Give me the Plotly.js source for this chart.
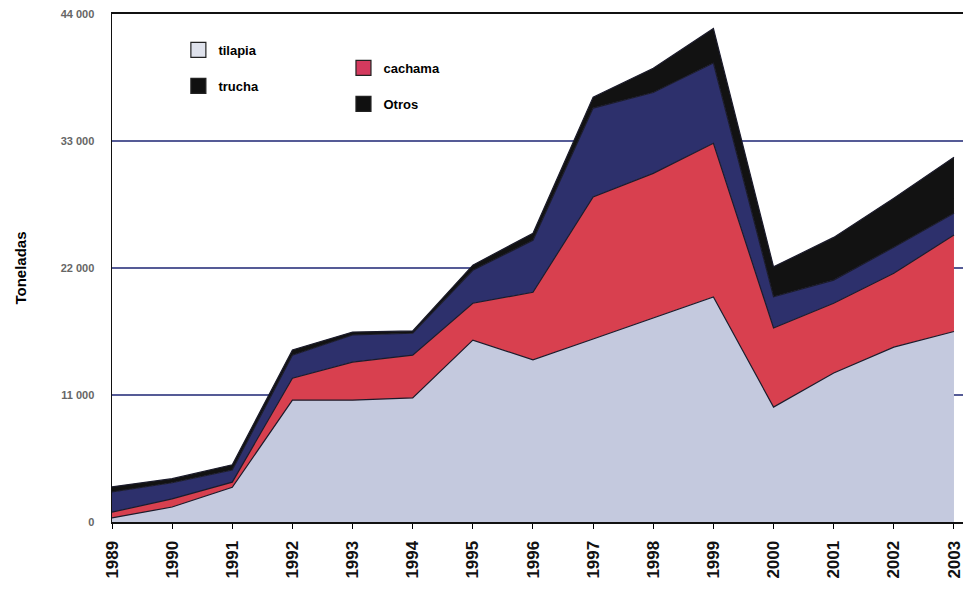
<!DOCTYPE html>
<html>
<head>
<meta charset="utf-8">
<script src="https://cdn.plot.ly/plotly-3.0.1.min.js"></script>
<style>html,body{margin:0;padding:0;background:#fff;overflow:hidden}#chart{width:965px;height:600px}</style>
</head>
<body>
<div id="chart"></div>
<script>
const years = [1989,1990,1991,1992,1993,1994,1995,1996,1997,1998,1999,2000,2001,2002,2003];
const tilapia = [350, 1300, 3000, 10550, 10550, 10750, 15750, 14050, 15850, 17650, 19500, 9950, 12900, 15150, 16500];
const cachama = [500, 700, 450, 1900, 3300, 3700, 3200, 5850, 12300, 12550, 13300, 6850, 6050, 6400, 8350];
const trucha = [1750, 1400, 1050, 2000, 2350, 1900, 2850, 4500, 7700, 7000, 6950, 2700, 2000, 2250, 1900];
const otros = [450, 350, 450, 450, 250, 200, 450, 600, 950, 2100, 3000, 2600, 3700, 4250, 4850];
const yTicks = [0, 11000, 22000, 33000, 44000];

const names = ['tilapia', 'cachama', 'trucha', 'Otros'];
const series = [tilapia, cachama, trucha, otros];
const fills = ['#c4c9de', '#d8404f', '#2d306c', '#121212'];
const legendFills = ['#dfe2ec', '#d43a5e', '#101010', '#101010'];
const legendIds = ['legend', 'legend2', 'legend3', 'legend4'];

const font = {family: 'Liberation Sans, Arial, sans-serif', size: 13, color: '#000', weight: 'bold'};
const edge = {color: '#1b1b2b', width: 1.2};
const data = [];
series.forEach((y, i) => {
  data.push({x: years, y: y, name: names[i], type: 'scatter', mode: 'lines', stackgroup: 'a',
    fillcolor: fills[i], line: edge, showlegend: false, hoverinfo: 'skip'});
});
series.forEach((y, i) => {
  data.push({x: [null], y: [null], name: names[i], type: 'scatter', mode: 'markers',
    marker: {symbol: 'square', size: 15, color: legendFills[i], line: {color: '#222', width: 1.2}},
    legend: legendIds[i], showlegend: true, hoverinfo: 'skip'});
});
function leg(x, y) {
  return {x: x, y: y, xanchor: 'left', yanchor: 'middle', bgcolor: 'rgba(0,0,0,0)',
    font: font, itemwidth: 30};
}
const layout = {
  width: 965, height: 600,
  margin: {l: 112, r: 2, t: 14, b: 78},
  paper_bgcolor: '#fff', plot_bgcolor: '#fff',
  separators: '. ',
  font: font,
  showlegend: true,
  legend: leg(0.078, (522-50)/508),
  legend2: leg(0.272, (522-68)/508),
  legend3: leg(0.078, (522-86)/508),
  legend4: leg(0.272, (522-104)/508),
  xaxis: {range: [1989, 2003.15], tickmode: 'array', tickvals: years, ticktext: years.map(String),
    tickangle: -90, ticks: 'outside', ticklen: 5, tickcolor: '#000', ticklabelstandoff: 5,
    ticklabeloverflow: 'allow',
    showgrid: false, zeroline: false, showline: true, linecolor: '#111', linewidth: 2, mirror: true,
    tickfont: {family: 'Liberation Sans Narrow, Liberation Sans, Arial', size: 17, color: '#111', weight: 'bold'}},
  yaxis: {range: [0, 44000], tickmode: 'array', tickvals: yTicks, tickformat: ',d',
    ticks: '', ticklabelstandoff: 14, showgrid: true, gridcolor: '#555b96', gridwidth: 2,
    zeroline: false, showline: true, linecolor: '#111', linewidth: 1.5,
    tickfont: {family: 'Liberation Sans, Arial', size: 11, color: '#666', weight: 'bold'},
    title: {text: 'Toneladas', standoff: 30, font: {family: 'Liberation Sans, Arial', size: 15, color: '#000', weight: 'bold'}}}
};
Plotly.newPlot('chart', data, layout, {displayModeBar: false, staticPlot: true});
</script>
</body>
</html>
